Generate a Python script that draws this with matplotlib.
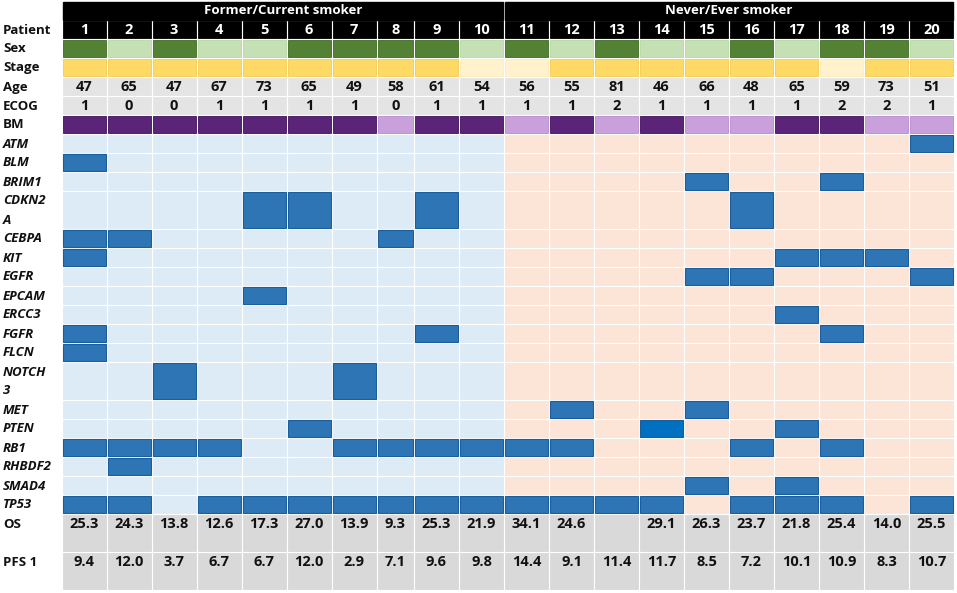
#!/usr/bin/env python3
"""Patient mutation overview table drawn with matplotlib."""

import matplotlib
matplotlib.use("Agg")
import matplotlib.pyplot as plt
from matplotlib.patches import Rectangle

plt.rcParams["font.family"] = ["Open Sans", "DejaVu Sans"]

# ---- data ----
patients = list(range(1, 21))
groups = ["Former/Current smoker", "Never/Ever smoker"]
group_sizes = [10, 10]

sex_dark = [1, 0, 1, 0, 0, 1, 1, 1, 1, 0, 1, 0, 1, 0, 0, 1, 0, 1, 1, 0]
stage_dark = [1, 1, 1, 1, 1, 1, 1, 1, 1, 0, 0, 1, 1, 1, 1, 1, 1, 0, 1, 1]
age = [47, 65, 47, 67, 73, 65, 49, 58, 61, 54, 56, 55, 81, 46, 66, 48, 65, 59, 73, 51]
ecog = [1, 0, 0, 1, 1, 1, 1, 0, 1, 1, 1, 1, 2, 1, 1, 1, 1, 2, 2, 1]
bm_dark = [1, 1, 1, 1, 1, 1, 1, 0, 1, 1, 0, 1, 0, 1, 0, 0, 1, 1, 0, 0]

genes = ["ATM", "BLM", "BRIM1", "CDKN2A", "CEBPA", "KIT", "EGFR", "EPCAM",
         "ERCC3", "FGFR", "FLCN", "NOTCH3", "MET", "PTEN", "RB1", "RHBDF2",
         "SMAD4", "TP53"]
gene_labels = ["ATM", "BLM", "BRIM1", "CDKN2\nA", "CEBPA", "KIT", "EGFR", "EPCAM",
               "ERCC3", "FGFR", "FLCN", "NOTCH\n3", "MET", "PTEN", "RB1", "RHBDF2",
               "SMAD4", "TP53"]
mutated = [
    [20],
    [1],
    [15, 18],
    [5, 6, 9, 16],
    [1, 2, 8],
    [1, 17, 18, 19],
    [15, 16, 20],
    [5],
    [17],
    [1, 9, 18],
    [1],
    [3, 7],
    [12, 15],
    [6, 14, 17],
    [1, 2, 3, 4, 7, 8, 9, 10, 11, 12, 16, 18],
    [2],
    [15, 17],
    [1, 2, 4, 5, 6, 7, 8, 9, 10, 11, 12, 13, 14, 16, 17, 18, 20],
]
bright_mutation = [("PTEN", 14)]

os_months = [25.3, 24.3, 13.8, 12.6, 17.3, 27.0, 13.9, 9.3, 25.3, 21.9,
             34.1, 24.6, None, 29.1, 26.3, 23.7, 21.8, 25.4, 14.0, 25.5]
pfs1_months = [9.4, 12.0, 3.7, 6.7, 6.7, 12.0, 2.9, 7.1, 9.6, 9.8,
               14.4, 9.1, 11.4, 11.7, 8.5, 7.2, 10.1, 10.9, 8.3, 10.7]

# ---- layout (pixel units of a 957x593 canvas) ----
X0 = 61.5
col_pitch = [45.0] * 20
col_pitch[7] = 37.5
col_left = [X0 + sum(col_pitch[:i]) for i in range(20)]
Y0, PITCH, GAP = 2.0, 19.0, 2.0
FS = 10.5

# colours
BLACK = "#000000"
GREEN_D, GREEN_L = "#548235", "#C5E0B4"
GOLD_D, GOLD_L = "#FFD966", "#FFF2CC"
PURPLE_D, PURPLE_L = "#5B2479", "#C9A0DC"
GREY, GREY_OS = "#E4E4E4", "#D9D9D9"
BLUE_BG, PEACH_BG = "#DDEBF7", "#FCE4D6"
MUT, MUT_BRIGHT = "#2E75B6", "#0070C0"

fig = plt.figure(figsize=(9.57, 5.93), dpi=100)
ax = fig.add_axes([0, 0, 1, 1])
ax.set_xlim(0, 957)
ax.set_ylim(593, 0)
ax.axis("off")


def cell(col, row_unit, units, face, edge=None, lw=0.6):
    x = col_left[col] + 1
    w = col_pitch[col] - GAP
    y = Y0 + row_unit * PITCH
    h = units * PITCH - GAP
    ax.add_patch(Rectangle((x, y), w, h, facecolor=face,
                           edgecolor=edge if edge else face, lw=lw))
    return x + w / 2, y + (PITCH - GAP) / 2


def row_label(row_unit, text, italic=False):
    lines = text.split("\n")
    for k, line in enumerate(lines):
        ax.text(3, Y0 + (row_unit + k) * PITCH + (PITCH - GAP) / 2 + 0.5, line,
                ha="left", va="center", fontsize=9.5, fontweight="bold",
                fontstyle="italic" if italic else "normal", color="#111111")


def value_text(cx, cy, s, color="#111111", size=FS):
    ax.text(cx, cy + 0.5, s, ha="center", va="center", fontsize=size,
            fontweight="bold", color=color)


# group header
start = 0
for name, n in zip(groups, group_sizes):
    x1 = col_left[start] + 1
    x2 = col_left[start + n - 1] + col_pitch[start + n - 1] - 1
    ax.add_patch(Rectangle((x1, Y0), x2 - x1, PITCH - GAP + 1, facecolor=BLACK,
                           edgecolor=BLACK))
    value_text((x1 + x2) / 2, Y0 + (PITCH - GAP) / 2, name, color="white",
               size=9.5)
    start += n

r = 1
row_label(r, "Patient")
for i, p in enumerate(patients):
    cx, cy = cell(i, r, 1, BLACK)
    value_text(cx, cy, str(p), color="white")

r = 2
row_label(r, "Sex")
for i, v in enumerate(sex_dark):
    cell(i, r, 1, GREEN_D if v else GREEN_L, "#3F6A27" if v else "#B5D6A2")

r = 3
row_label(r, "Stage")
for i, v in enumerate(stage_dark):
    cell(i, r, 1, GOLD_D if v else GOLD_L, "#F5CB4E" if v else "#FBEBBE")

r = 4
row_label(r, "Age")
for i, v in enumerate(age):
    cx, cy = cell(i, r, 1, GREY)
    value_text(cx, cy, str(v))

r = 5
row_label(r, "ECOG")
for i, v in enumerate(ecog):
    cx, cy = cell(i, r, 1, GREY)
    value_text(cx, cy, str(v))

r = 6
row_label(r, "BM")
for i, v in enumerate(bm_dark):
    cell(i, r, 1, PURPLE_D if v else PURPLE_L, "#3F1259" if v else "#B98CD0")

# gene rows
r = 7
for gene, label, muts in zip(genes, gene_labels, mutated):
    units = 2 if "\n" in label else 1
    row_label(r, label, italic=True)
    for i, p in enumerate(patients):
        bg = BLUE_BG if i < group_sizes[0] else PEACH_BG
        if p in muts:
            face = MUT_BRIGHT if (gene, p) in bright_mutation else MUT
            cell(i, r, units, face, "#1B5E9E", lw=0.8)
        else:
            cell(i, r, units, bg)
    r += units

# survival rows
for label, vals in [("OS", os_months), ("PFS 1", pfs1_months)]:
    row_label(r, label)
    for i, v in enumerate(vals):
        cx, cy = cell(i, r, 2, GREY_OS)
        if v is not None:
            value_text(cx, cy, f"{v:.1f}")
    r += 2

fig.savefig("out.png", dpi=100)
